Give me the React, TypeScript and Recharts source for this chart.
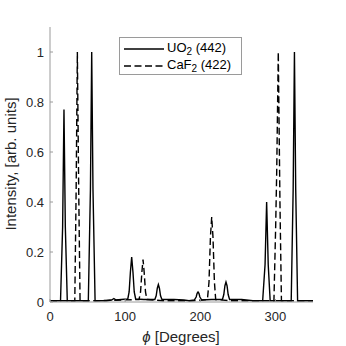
import React from 'react';
import { LineChart, Line, XAxis, YAxis } from 'recharts';

// UO2 (442) scan, solid line
const uoPhi = [0, 14, 16.8, 18.6, 20.4, 23, 40, 51, 53.8, 55.5, 57.2, 60, 75, 82, 85, 88, 95, 103.5, 105.3, 107, 108.7, 110.4, 112.1, 114, 125, 139.5, 141.3, 142.8, 144.2, 145.6, 147.1, 149, 165, 178, 185, 192, 194.5, 195.8, 197, 198.2, 199.5, 202, 215, 229.5, 231.3, 232.8, 234.2, 235.6, 237.1, 239, 255, 270, 283, 286.2, 288.3, 290.4, 293, 310, 321, 323.6, 325.3, 327, 329.5, 350];
const uoInt = [0.005, 0.005, 0.3, 0.77, 0.3, 0.005, 0.005, 0.005, 0.45, 1.0, 0.45, 0.005, 0.005, 0.008, 0.014, 0.008, 0.01, 0.012, 0.04, 0.12, 0.18, 0.12, 0.04, 0.012, 0.01, 0.01, 0.025, 0.055, 0.07, 0.055, 0.025, 0.01, 0.01, 0.008, 0.005, 0.008, 0.02, 0.035, 0.04, 0.035, 0.02, 0.008, 0.01, 0.01, 0.03, 0.065, 0.08, 0.065, 0.03, 0.01, 0.01, 0.005, 0.005, 0.15, 0.4, 0.15, 0.005, 0.005, 0.005, 0.45, 1.0, 0.45, 0.005, 0.005];

// CaF2 (422) scan, dashed line
const cafPhi = [0, 33, 34.8, 36.4, 38.2, 40, 60, 95, 118.5, 120.5, 122.3, 123.8, 125.3, 127.1, 129, 150, 190, 209.5, 211.6, 213.5, 215.2, 216.9, 218.8, 220.5, 240, 280, 298, 300.3, 301.7, 303.8, 306, 308, 350];
const cafInt = [0.005, 0.005, 0.45, 1.0, 0.45, 0.005, 0.005, 0.008, 0.01, 0.04, 0.12, 0.17, 0.12, 0.04, 0.01, 0.005, 0.005, 0.01, 0.08, 0.26, 0.34, 0.26, 0.08, 0.01, 0.005, 0.005, 0.005, 0.3, 0.52, 1.0, 0.4, 0.005, 0.005];

const xTicks = [0, 100, 200, 300];
const yTicks = [0, 0.2, 0.4, 0.6, 0.8, 1];

const uoData = uoPhi.map((phi, i) => ({ phi, v: uoInt[i] }));
const cafData = cafPhi.map((phi, i) => ({ phi, v: cafInt[i] }));

const FONT = '"Liberation Sans", Arial, Helvetica, sans-serif';
const AXIS = '#9a9a9a';
const TICK = { fill: '#262626', fontSize: 13, fontFamily: FONT };

const LegendRow: React.FC<{ dash?: boolean; name: string; hkl: string }> = ({ dash, name, hkl }) => (
    <div style={{ display: 'flex', alignItems: 'center', height: 17 }}>
        <svg width={40} height={4} style={{ marginRight: 3 }}>
            <line x1={0} y1={2} x2={40} y2={2} stroke="#000" strokeWidth={1.3} strokeDasharray={dash ? '7 3.5' : undefined} />
        </svg>
        <span>
            {name}
            <sub style={{ fontSize: 10, verticalAlign: -3 }}>2</sub> ({hkl})
        </span>
    </div>
);

const App: React.FC = () => {
    return (
        <div style={{ position: 'absolute', left: 0, top: 0, width: 346, height: 346, background: '#fff', fontFamily: FONT }}>
            <LineChart width={346} height={346} margin={{ top: 27, right: 33, bottom: 0, left: 0 }}>
                <XAxis
                    dataKey="phi"
                    type="number"
                    domain={[0, 350]}
                    ticks={xTicks}
                    height={44}
                    stroke={AXIS}
                    tickSize={-3}
                    tickMargin={13}
                    tick={TICK}
                    allowDataOverflow
                />
                <XAxis xAxisId="top" orientation="top" type="number" domain={[0, 350]} ticks={xTicks} height={0} stroke={AXIS} tickSize={-3} tick={false} />
                <YAxis
                    type="number"
                    domain={[0, 1.1]}
                    ticks={yTicks}
                    width={50}
                    stroke={AXIS}
                    tickSize={-3}
                    tickMargin={9}
                    tick={TICK}
                    allowDataOverflow
                />
                <YAxis yAxisId="right" orientation="right" type="number" domain={[0, 1.1]} ticks={yTicks} width={0} stroke={AXIS} tickSize={-3} tick={false} />
                <Line data={uoData} dataKey="v" type="linear" stroke="#000" strokeWidth={1.4} dot={false} isAnimationActive={false} />
                <Line data={cafData} dataKey="v" type="linear" stroke="#000" strokeWidth={1.4} strokeDasharray="7 3.5" dot={false} isAnimationActive={false} />
            </LineChart>

            {/* axis titles */}
            <div style={{ position: 'absolute', left: 0, top: 328, width: 346, paddingLeft: 16, boxSizing: 'border-box', textAlign: 'center', fontSize: 15, color: '#262626' }}>
                <span style={{ fontStyle: 'italic' }}>ϕ</span> [Degrees]
            </div>
            <div style={{ position: 'absolute', left: 10, top: 164, transform: 'translate(-50%, -50%) rotate(-90deg)', whiteSpace: 'nowrap', fontSize: 15, color: '#262626' }}>
                Intensity, [arb. units]
            </div>

            {/* legend, MATLAB "north" location */}
            <div style={{ position: 'absolute', left: 119, top: 37, width: 123, height: 38, boxSizing: 'border-box', border: `1px solid ${AXIS}`, background: '#fff', padding: '2px 0 0 4px', fontSize: 13, color: '#000' }}>
                <LegendRow name="UO" hkl="442" />
                <LegendRow dash name="CaF" hkl="422" />
            </div>
        </div>
    );
};

export default App;
